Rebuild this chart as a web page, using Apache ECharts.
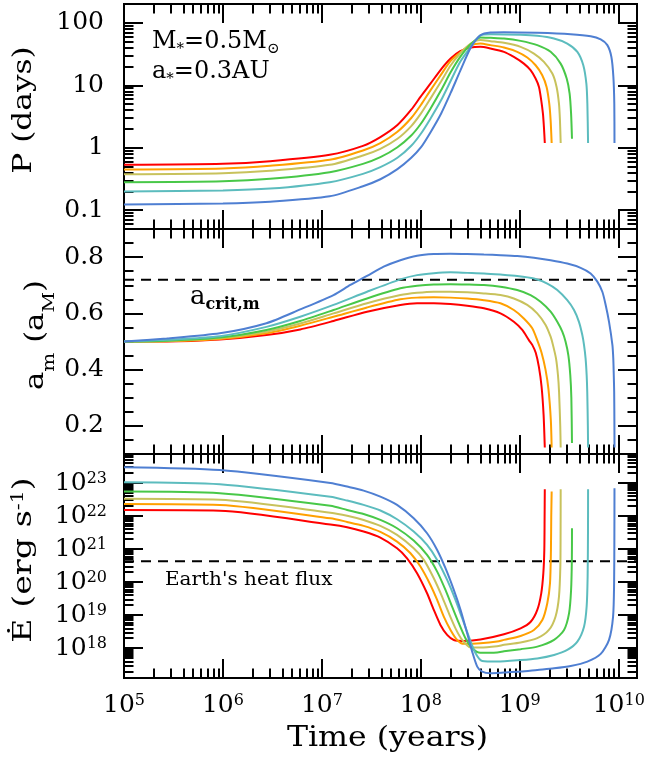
<!DOCTYPE html>
<html>
<head>
<meta charset="utf-8">
<script src="https://cdn.jsdelivr.net/npm/echarts@6.0.0/dist/echarts.min.js"></script>
<style>
  html, body { margin: 0; padding: 0; background: #fff; }
  #chart { width: 649px; height: 762px; }
</style>
</head>
<body>
<div id="chart"></div>
<script>
// ---- axis ranges and tick values ----
const TIME_MIN = 1e5, TIME_MAX = 1.53e10;
const PERIOD_MIN = 0.05, PERIOD_MAX = 200;
const SMA_MIN = 0.1, SMA_MAX = 0.9;
const HEAT_MIN = 1.25e17, HEAT_MAX = 7.5e23;

const timeTicks = [1e5, 1e6, 1e7, 1e8, 1e9, 1e10];
const periodTicks = [0.1, 1, 10, 100];
const smaTicks = [0.2, 0.4, 0.6, 0.8];
const smaMinorTicks = [0.15, 0.25, 0.3, 0.35, 0.45, 0.5, 0.55, 0.65, 0.7, 0.75, 0.85];
const heatTicks = [1e18, 1e19, 1e20, 1e21, 1e22, 1e23];

// reference levels
const A_CRIT = 0.72;            // critical semi-major axis of the moon (a_M)
const EARTH_HEAT_FLUX = 4.3e20; // erg/s

const curveOrder = ['red', 'orange', 'yellow', 'green', 'cyan', 'blue'];
const COLORS = {
  red: '#ff0000', orange: '#ffa000', yellow: '#c8c25c',
  green: '#48c848', cyan: '#5cbcbe', blue: '#4f7fd2'
};

// ---- orbital period P (days) vs time (years) ----
const periodRed = [[1e5,0.533],[1e6,0.553],[3e6,0.61],[1.2e7,0.771],[2.6e7,1.07],[3.9e7,1.48],[5.8e7,2.31],[8e7,4.06],[1e8,6.65],[1.25e8,10.6],[1.6e8,18.0],[2e8,26.8],[2.5e8,35.1],[3.2e8,40.2],[4e8,41.2],[5.06e8,38.7],[6.92e8,34.3],[8.71e8,28.4],[1.10e9,22.2],[1.285e9,17.4],[1.445e9,12.8],[1.563e9,9.4],[1.648e9,5.74],[1.714e9,3.51],[1.754e9,2.14],[1.79e9,1.19]];
const periodOrange = [[1e5,0.449],[1e6,0.466],[3e6,0.514],[1.2e7,0.641],[2.6e7,0.904],[3.9e7,1.186],[5.8e7,1.80],[8e7,2.99],[1e8,4.83],[1.25e8,8.30],[1.6e8,14.8],[2e8,24.5],[2.5e8,33.4],[3.2e8,43.7],[4e8,46.6],[5.06e8,43.9],[6.92e8,40.2],[9.42e8,34.3],[1.19e9,27.8],[1.445e9,20.9],[1.687e9,14.5],[1.866e9,9.4],[1.986e9,5.07],[2.05e9,2.74],[2.10e9,1.19]];
const periodYellow = [[1e5,0.377],[1e6,0.391],[3e6,0.428],[1.2e7,0.532],[2.6e7,0.752],[3.9e7,0.962],[5.8e7,1.39],[8e7,2.22],[1e8,3.51],[1.25e8,6.11],[1.6e8,11.5],[2e8,20.7],[2.5e8,32.6],[3.2e8,46.6],[4e8,53.1],[5.06e8,50.8],[6.92e8,47.8],[1.019e9,41.2],[1.39e9,32.2],[1.754e9,23.7],[2.133e9,15.4],[2.355e9,9.4],[2.489e9,5.07],[2.547e9,2.74],[2.59e9,1.19]];
const periodGreen = [[1e5,0.281],[1e6,0.291],[3e6,0.318],[1.2e7,0.406],[2.6e7,0.552],[3.9e7,0.706],[5.8e7,1.02],[8e7,1.57],[1e8,2.42],[1.25e8,4.22],[1.6e8,8.30],[2e8,16.1],[2.5e8,28.4],[3.2e8,45.7],[4e8,58.2],[5.06e8,57.4],[6.92e8,56.1],[1.019e9,51.4],[1.503e9,43.9],[2.05e9,34.3],[2.588e9,22.2],[2.979e9,12.8],[3.19e9,7.35],[3.30e9,3.51],[3.37e9,1.39]];
const periodCyan = [[1e5,0.199],[1e6,0.207],[3e6,0.222],[1.2e7,0.281],[2.6e7,0.382],[3.9e7,0.489],[5.8e7,0.690],[8e7,1.074],[1e8,1.675],[1.25e8,2.92],[1.6e8,5.74],[2e8,11.7],[2.5e8,23.7],[3.2e8,41.2],[4e8,63.1],[5.06e8,65.8],[1.019e9,64.3],[1.503e9,61.9],[2.213e9,56.1],[3.02e9,46.6],[3.819e9,34.3],[4.385e9,20.9],[4.71e9,10.6],[4.82e9,5.07],[4.90e9,1.19]];
const periodBlue = [[1e5,0.123],[1e6,0.128],[3e6,0.137],[1.2e7,0.167],[2.6e7,0.242],[3.9e7,0.313],[5.8e7,0.454],[8e7,0.690],[1e8,1.01],[1.25e8,1.76],[1.6e8,3.51],[2e8,7.53],[2.5e8,17.0],[3.2e8,40.2],[4e8,63.1],[5.06e8,70.0],[6.92e8,70.8],[1.503e9,69.2],[3.266e9,65.8],[5.21e9,61.1],[6.577e9,54.1],[7.674e9,43.9],[8.433e9,28.4],[8.83e9,13.6],[9.02e9,5.07],[9.06e9,1.19]];

// ---- moon semi-major axis a_m (units of a_M) vs time ----
const smaRed = [[1e5,0.5],[2.7e5,0.5],[9.3e5,0.507],[2.75e6,0.523],[6.04e6,0.543],[1.31e7,0.573],[2.86e7,0.606],[6.21e7,0.630],[9.16e7,0.636],[1.352e8,0.636],[1.99e8,0.633],[2.94e8,0.627],[4.34e8,0.618],[6.38e8,0.600],[8.71e8,0.570],[1.06e9,0.541],[1.236e9,0.505],[1.337e9,0.488],[1.45e9,0.46],[1.56e9,0.41],[1.66e9,0.34],[1.74e9,0.24],[1.79e9,0.123]];
const smaOrange = [[1e5,0.5],[2.7e5,0.501],[9.3e5,0.509],[2.75e6,0.529],[6.04e6,0.556],[1.31e7,0.588],[2.86e7,0.621],[6.21e7,0.650],[9.16e7,0.656],[1.352e8,0.657],[1.99e8,0.656],[2.94e8,0.653],[4.34e8,0.647],[6.38e8,0.636],[8.71e8,0.612],[1.099e9,0.582],[1.337e9,0.547],[1.5e9,0.505],[1.66e9,0.46],[1.82e9,0.40],[1.95e9,0.33],[2.06e9,0.22],[2.10e9,0.123]];
const smaYellow = [[1e5,0.5],[2.7e5,0.502],[9.3e5,0.512],[2.75e6,0.535],[6.04e6,0.564],[1.31e7,0.600],[2.86e7,0.636],[6.21e7,0.665],[9.16e7,0.673],[1.352e8,0.677],[1.99e8,0.677],[2.94e8,0.675],[4.34e8,0.671],[6.38e8,0.665],[8.71e8,0.653],[1.189e9,0.630],[1.5e9,0.600],[1.824e9,0.559],[2.05e9,0.517],[2.163e9,0.488],[2.323e9,0.44],[2.432e9,0.38],[2.495e9,0.32],[2.564e9,0.2],[2.59e9,0.123]];
const smaGreen = [[1e5,0.5],[2.7e5,0.503],[9.3e5,0.514],[2.75e6,0.541],[6.04e6,0.573],[1.31e7,0.612],[2.86e7,0.653],[6.21e7,0.689],[9.16e7,0.698],[1.352e8,0.703],[1.99e8,0.704],[2.94e8,0.703],[4.34e8,0.701],[6.38e8,0.695],[9.42e8,0.683],[1.285e9,0.665],[1.622e9,0.641],[2.05e9,0.606],[2.393e9,0.570],[2.69e9,0.535],[2.904e9,0.499],[3.1e9,0.45],[3.24e9,0.38],[3.32e9,0.30],[3.37e9,0.139]];
const smaCyan = [[1e5,0.5],[2.7e5,0.506],[9.3e5,0.519],[2.75e6,0.552],[6.04e6,0.588],[1.31e7,0.630],[2.86e7,0.677],[6.21e7,0.721],[9.16e7,0.736],[1.352e8,0.743],[1.99e8,0.746],[2.94e8,0.744],[4.34e8,0.742],[6.38e8,0.738],[9.42e8,0.733],[1.39e9,0.724],[1.897e9,0.706],[2.393e9,0.683],[3.02e9,0.647],[3.532e9,0.612],[3.963e9,0.570],[4.285e9,0.523],[4.457e9,0.488],[4.624e9,0.44],[4.742e9,0.38],[4.808e9,0.32],[4.875e9,0.2],[4.90e9,0.123]];
const smaBlue = [[1e5,0.5],[2.7e5,0.511],[9.3e5,0.529],[2.75e6,0.565],[6.04e6,0.614],[1.31e7,0.665],[1.94e7,0.701],[2.86e7,0.733],[4.21e7,0.766],[6.21e7,0.789],[9.16e7,0.805],[1.352e8,0.811],[1.99e8,0.812],[2.94e8,0.811],[4.34e8,0.809],[6.38e8,0.807],[9.42e8,0.804],[1.39e9,0.798],[2.05e9,0.789],[3.02e9,0.777],[4.12e9,0.762],[5.2e9,0.742],[6.08e9,0.713],[6.83e9,0.677],[7.38e9,0.630],[7.98e9,0.570],[8.63e9,0.488],[8.81e9,0.44],[8.913e9,0.38],[8.995e9,0.32],[9.045e9,0.2],[9.06e9,0.123]];

// ---- tidal heating rate Edot (erg/s) vs time ----
const heatRed = [[1e5,1.51e22],[9.3e5,1.45e22],[1.22e7,5.5e21],[1.8e7,4.55e21],[2.64e7,3.37e21],[3.9e7,2.22e21],[5.75e7,1.05e21],[7.26e7,5.25e20],[9.16e7,1.85e20],[1.156e8,4.58e19],[1.352e8,1.44e19],[1.578e8,5.05e18],[1.845e8,2.51e18],[2.153e8,1.77e18],[2.723e8,1.66e18],[4.0e8,1.82e18],[6.92e8,2.63e18],[1.019e9,3.98e18],[1.29e9,6.31e18],[1.503e9,1.44e19],[1.648e9,4.57e19],[1.73e9,1.86e20],[1.77e9,9.3e20],[1.782e9,9.5e21],[1.79e9,6.46e22]];
const heatOrange = [[1e5,2.29e22],[9.3e5,2.14e22],[1.22e7,8.5e21],[1.8e7,6.61e21],[2.64e7,5.01e21],[3.9e7,3.29e21],[5.75e7,1.68e21],[7.86e7,7.43e20],[9.91e7,2.94e20],[1.25e8,8.18e19],[1.462e8,2.88e19],[1.706e8,9.0e18],[1.995e8,3.56e18],[2.328e8,1.77e18],[2.723e8,1.35e18],[4.0e8,1.4e18],[5.9e8,1.58e18],[6.92e8,1.78e18],[1.019e9,2.34e18],[1.39e9,3.55e18],[1.69e9,7.08e18],[1.897e9,2.29e19],[2.02e9,9.12e19],[2.065e9,9.33e20],[2.08e9,9.55e21],[2.10e9,5.5e22]];
const heatYellow = [[1e5,3.31e22],[9.3e5,3.09e22],[1.22e7,1.26e22],[1.8e7,1.02e22],[2.64e7,7.59e21],[3.9e7,5.01e21],[5.75e7,2.67e21],[8.47e7,1.05e21],[1.072e8,4.68e20],[1.352e8,1.30e20],[1.64e8,3.63e19],[1.919e8,1.14e19],[2.239e8,3.98e18],[2.618e8,1.77e18],[3.177e8,1.05e18],[4.0e8,1.05e18],[5.9e8,1.15e18],[6.92e8,1.26e18],[1.019e9,1.48e18],[1.503e9,2.0e18],[1.97e9,3.55e18],[2.30e9,9.12e18],[2.49e9,3.63e19],[2.57e9,2.95e20],[2.585e9,3.02e21],[2.59e9,6.46e22]];
const heatGreen = [[1e5,5.5e22],[9.3e5,4.9e22],[1.22e7,2.04e22],[1.8e7,1.52e22],[2.64e7,1.15e22],[3.9e7,7.59e21],[5.75e7,4.25e21],[8.47e7,1.80e21],[1.156e8,6.61e20],[1.462e8,2.07e20],[1.774e8,5.78e19],[2.07e8,1.81e19],[2.421e8,5.68e18],[2.825e8,2.0e18],[3.304e8,9.9e17],[4.0e8,7.2e17],[5.9e8,7.41e17],[6.92e8,8.0e17],[1.019e9,9.33e17],[1.503e9,1.11e18],[2.22e9,1.78e18],[2.80e9,3.55e18],[3.15e9,1.15e19],[3.30e9,5.75e19],[3.36e9,4.68e20],[3.37e9,4.27e21]];
const heatCyan = [[1e5,1.05e23],[9.3e5,9.12e22],[1.22e7,3.8e22],[1.8e7,2.92e22],[2.64e7,2.16e22],[3.9e7,1.46e22],[5.75e7,7.94e21],[8.47e7,3.37e21],[1.156e8,1.33e21],[1.462e8,4.68e20],[1.845e8,1.16e20],[2.239e8,2.88e19],[2.618e8,8.04e18],[3.055e8,2.24e18],[3.573e8,7.0e17],[4.169e8,4.11e17],[5.9e8,3.93e17],[1.019e9,4.37e17],[1.503e9,4.9e17],[2.22e9,6.24e17],[3.02e9,8.83e17],[3.82e9,1.58e18],[4.46e9,4.47e18],[4.74e9,1.82e19],[4.85e9,1.48e20],[4.89e9,3.02e21],[4.90e9,6.46e22]];
const heatBlue = [[1e5,2.99e23],[9.3e5,2.45e23],[1.22e7,1.0e23],[1.8e7,7.74e22],[2.64e7,5.86e22],[3.9e7,3.85e22],[5.75e7,2.16e22],[8.47e7,8.51e21],[1.156e8,3.0e21],[1.462e8,9.38e20],[1.774e8,2.62e20],[2.153e8,5.78e19],[2.518e8,1.44e19],[2.94e8,2.82e18],[3.304e8,7.87e17],[3.715e8,2.77e17],[4.169e8,1.95e17],[5.06e8,1.74e17],[6.92e8,1.82e17],[1.019e9,1.95e17],[1.503e9,2.19e17],[2.22e9,2.45e17],[3.27e9,2.88e17],[4.82e9,3.93e17],[6.58e9,6.7e17],[7.98e9,1.78e18],[8.77e9,9.02e18],[8.98e9,9.12e19],[9.04e9,3.02e21],[9.06e9,6.92e22]];

// ---------------------------------------------------------------
const FONT = 'DejaVu Serif';
const INK = '#000';

// minor ticks at 2..9 x 10^n inside (min, max)
function logMinorTicks(min, max) {
  const out = [];
  for (let e = Math.floor(Math.log10(min)); e <= Math.ceil(Math.log10(max)); e++) {
    for (let m = 2; m <= 9; m++) {
      const v = Number((m * Math.pow(10, e)).toPrecision(2));
      if (v > min && v < max) out.push(v);
    }
  }
  return out;
}

const powerRich = {
  b: { fontFamily: FONT, fontSize: 25, lineHeight: 30, verticalAlign: 'top', color: INK },
  s: { fontFamily: FONT, fontSize: 16, lineHeight: 16, verticalAlign: 'top', color: INK }
};
const powerLabel = v => '{b|10}{s|' + Math.round(Math.log10(v)) + '}';

const panels = [
  {
    top: 4, height: 225, yType: 'log', yMin: PERIOD_MIN, yMax: PERIOD_MAX,
    yMajor: periodTicks, yMinor: logMinorTicks(PERIOD_MIN, PERIOD_MAX),
    yLabel: { formatter: v => String(v), fontFamily: FONT, fontSize: 25, color: INK, margin: 20, padding: [3, 0, 0, 0] },
    curves: { red: periodRed, orange: periodOrange, yellow: periodYellow, green: periodGreen, cyan: periodCyan, blue: periodBlue },
    level: null
  },
  {
    top: 229, height: 225, yType: 'value', yMin: SMA_MIN, yMax: SMA_MAX,
    yMajor: smaTicks, yMinor: smaMinorTicks,
    yLabel: { formatter: v => v.toFixed(1), fontFamily: FONT, fontSize: 25, color: INK, margin: 20, padding: [3, 0, 0, 0] },
    curves: { red: smaRed, orange: smaOrange, yellow: smaYellow, green: smaGreen, cyan: smaCyan, blue: smaBlue },
    level: A_CRIT
  },
  {
    top: 454, height: 224, yType: 'log', yMin: HEAT_MIN, yMax: HEAT_MAX,
    yMajor: heatTicks, yMinor: logMinorTicks(HEAT_MIN, HEAT_MAX),
    yLabel: { formatter: powerLabel, rich: powerRich, margin: 17, padding: [6, 0, 0, 0] },
    curves: { red: heatRed, orange: heatOrange, yellow: heatYellow, green: heatGreen, cyan: heatCyan, blue: heatBlue },
    level: EARTH_HEAT_FLUX
  }
];

const timeMinorTicks = logMinorTicks(TIME_MIN, TIME_MAX);
const tickStyle = { color: INK, width: 2 };

function axis(g, pos, type, min, max, ticks, length, label) {
  const a = {
    type: type, gridIndex: g, position: pos, min: min, max: max,
    axisLine: { show: false, onZero: false },
    splitLine: { show: false },
    minorTick: { show: false },
    axisTick: { show: true, inside: true, length: length, customValues: ticks, lineStyle: tickStyle },
    axisLabel: label ? Object.assign({ show: true, customValues: ticks }, label) : { show: false }
  };
  if (type === 'log') a.logBase = 10;
  return a;
}

const grids = [], xAxes = [], yAxes = [], series = [];

panels.forEach((p, g) => {
  grids.push({ left: 124, right: 12, top: p.top, height: p.height, show: true, borderColor: INK, borderWidth: 2, backgroundColor: 'transparent', containLabel: false });

  const xLabel = g === 2 ? { formatter: powerLabel, rich: powerRich, margin: 15 } : null;
  xAxes.push(
    axis(g, 'bottom', 'log', TIME_MIN, TIME_MAX, timeTicks, 19, xLabel),
    axis(g, 'bottom', 'log', TIME_MIN, TIME_MAX, timeMinorTicks, 9.5, null),
    axis(g, 'top', 'log', TIME_MIN, TIME_MAX, timeTicks, 19, null),
    axis(g, 'top', 'log', TIME_MIN, TIME_MAX, timeMinorTicks, 9.5, null)
  );
  yAxes.push(
    axis(g, 'left', p.yType, p.yMin, p.yMax, p.yMajor, 19, p.yLabel),
    axis(g, 'left', p.yType, p.yMin, p.yMax, p.yMinor, 9.5, null),
    axis(g, 'right', p.yType, p.yMin, p.yMax, p.yMajor, 19, null),
    axis(g, 'right', p.yType, p.yMin, p.yMax, p.yMinor, 9.5, null)
  );

  if (p.level !== null) {
    series.push({
      type: 'line', xAxisIndex: 4 * g, yAxisIndex: 4 * g,
      data: [[TIME_MIN, p.level], [TIME_MAX, p.level]],
      symbol: 'none', silent: true, z: 2,
      lineStyle: { color: INK, width: 2, type: [10, 7] }
    });
  }

  curveOrder.forEach(c => {
    series.push({
      type: 'line', xAxisIndex: 4 * g, yAxisIndex: 4 * g,
      data: p.curves[c],
      symbol: 'none', showSymbol: false, silent: true, z: 3,
      smooth: 0.25,
      lineStyle: { color: COLORS[c], width: 2 },
      itemStyle: { color: COLORS[c] }
    });
  });
});

// ---- titles and annotations ----
function text(x, y, str, opt) {
  opt = opt || {};
  return {
    type: 'text', x: x, y: y, silent: true, z: 10,
    rotation: opt.rotation || 0,
    scaleX: opt.scaleX || 1,
    style: {
      text: str, x: 0, y: 0,
      fill: INK,
      fontFamily: FONT, fontSize: opt.fontSize || 25, fontWeight: opt.fontWeight || 'normal',
      align: opt.align || 'center', textAlign: opt.align || 'center',
      verticalAlign: 'middle', textVerticalAlign: 'middle',
      rich: opt.rich
    }
  };
}

const subRich = (base, sub, drop, baseLH) => ({
  b: { fontFamily: FONT, fontSize: base, lineHeight: baseLH, verticalAlign: 'top', fill: INK },
  s: { fontFamily: FONT, fontSize: sub, lineHeight: sub, padding: [drop, 0, 0, 0], verticalAlign: 'top', fill: INK }
});

const graphics = [
  text(24.3, 110, 'P (days)', { rotation: Math.PI / 2, fontSize: 26, scaleX: 1.2 }),
  text(37.5, 335, '{b|a}{s|m}{b| (a}{s|M}{b|)}', { rotation: Math.PI / 2, fontSize: 26, scaleX: 1.18, rich: subRich(26, 17, 18, 28) }),
  text(26, 560, '{b|\u0116 (erg s}{s|-1}{b|)}', { rotation: Math.PI / 2, fontSize: 26, scaleX: 1.28,
    rich: {
      b: { fontFamily: FONT, fontSize: 26, lineHeight: 30, verticalAlign: 'top', fill: INK },
      s: { fontFamily: FONT, fontSize: 16, lineHeight: 16, verticalAlign: 'top', fill: INK }
    } }),
  text(387.5, 739, 'Time (years)', { fontSize: 27, scaleX: 1.17 }),
  text(152, 41.3, '{b|M}{s|*}{b|=0.5M}{s|\u2299}', { align: 'left', fontSize: 24, rich: subRich(24, 15, 12, 24) }),
  text(152, 71.5, '{b|a}{s|*}{b|=0.3AU}', { align: 'left', fontSize: 24, rich: subRich(24, 15, 12, 24) }),
  text(190, 298.2, '{b|a}{s|crit,m}', { align: 'left', fontSize: 26,
    rich: {
      b: { fontFamily: FONT, fontSize: 26, lineHeight: 28, verticalAlign: 'top', fill: INK },
      s: { fontFamily: FONT, fontSize: 16, fontWeight: 'bold', lineHeight: 16, padding: [13, 0, 0, 0], verticalAlign: 'top', fill: INK }
    } }),
  text(165, 580.5, "Earth's heat flux", { align: 'left', fontSize: 18, scaleX: 1.11 })
];

const chart = echarts.init(document.getElementById('chart'), null, { renderer: 'canvas' });
chart.setOption({
  animation: false,
  backgroundColor: '#fff',
  grid: grids,
  xAxis: xAxes,
  yAxis: yAxes,
  series: series,
  graphic: { elements: graphics }
});
</script>
</body>
</html>
